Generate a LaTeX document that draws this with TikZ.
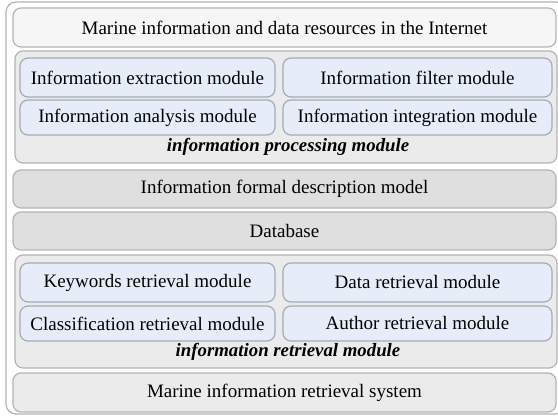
\documentclass[tikz,border=0pt]{standalone}
\usepackage{fontspec}
\setmainfont{Liberation Serif}
\definecolor{framegray}{HTML}{B4B4B4}
\definecolor{topfill}{HTML}{F6F6F6}
\definecolor{groupfill}{HTML}{EBEBEB}
\definecolor{darkfill}{HTML}{DFDFDF}
\definecolor{modfill}{HTML}{E6EDF8}
\definecolor{moddraw}{HTML}{A3ABB8}
\tikzset{
  layer/.style={draw=framegray, rounded corners=4pt, line width=0.6pt, inner sep=0pt,
    minimum width=271.5pt, minimum height=19.5pt},
  group/.style={layer, fill=groupfill, minimum width=271pt, minimum height=56pt},
  module/.style={draw=moddraw, fill=modfill, rounded corners=4pt, line width=0.6pt, inner sep=0pt},
  lmod/.style={module, minimum width=127.5pt},
  rmod/.style={module, minimum width=134.5pt},
  grouplabel/.style={font=\fontsize{9.4}{11}\selectfont\bfseries\itshape, inner sep=0pt}
}
\begin{document}
\begin{tikzpicture}[x=0.5pt, y=-0.5pt, font=\fontsize{9.5}{11}\selectfont]
  \useasboundingbox (0,0) rectangle (558,416);
  \node [draw=framegray, fill=white, rounded corners=5pt, line width=0.6pt,
    minimum width=280pt, minimum height=206pt] (frame) at (286,208) {};
  % top layer
  \node [layer, fill=topfill] (internet) at (284.5,27.5) {Marine information and data resources in the Internet};
  % processing
  \node [group] (proc) at (286,107) {};
  \node [lmod, minimum height=19.5pt] (extract) at (147.5,77.5) {Information extraction module};
  \node [rmod, minimum height=19.5pt] (filter) at (417.5,77.5) {Information filter module};
  \node [lmod, minimum height=17.5pt] (analysis) at (147.5,117.5) {Information analysis module};
  \node [rmod, minimum height=17.5pt] (integr) at (417.5,117.5) {Information integration module};
  \node [grouplabel] (proclabel) at (288,147) {information processing module};
  % model and database
  \node [layer, fill=darkfill, minimum height=19pt] (model) at (284.5,189) {Information formal description model};
  \node [layer, fill=darkfill, minimum height=19pt] (db) at (284.5,231) {Database};
  % retrieval
  \node [group, minimum height=56.5pt] (retr) at (286,311.5) {};
  \node [lmod, minimum height=19.5pt] (keyw) at (147.5,282.5) {Keywords retrieval module};
  \node [rmod, minimum height=19.5pt] (dataret) at (417.5,282.5) {Data retrieval module};
  \node [lmod, minimum height=17.5pt] (classif) at (147.5,323.5) {Classification retrieval module};
  \node [rmod, minimum height=17.5pt] (author) at (417.5,323.5) {Author retrieval module};
  \node [grouplabel] (retrlabel) at (288,352) {information retrieval module};
  % system
  \node [layer, fill=groupfill] (system) at (284.5,392.5) {Marine information retrieval system};
\end{tikzpicture}
\end{document}
